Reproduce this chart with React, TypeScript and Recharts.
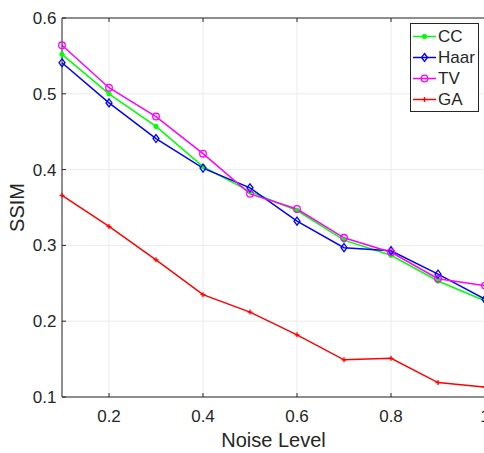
import React from 'react';
import { LineChart, Line, XAxis, YAxis, CartesianGrid, Legend, Label } from 'recharts';

const noiseLevels = [0.1, 0.2, 0.3, 0.4, 0.5, 0.6, 0.7, 0.8, 0.9, 1.0];
const ccSsim = [0.552, 0.5, 0.457, 0.404, 0.371, 0.346, 0.307, 0.287, 0.253, 0.227];
const haarSsim = [0.541, 0.488, 0.441, 0.402, 0.376, 0.332, 0.297, 0.293, 0.262, 0.229];
const tvSsim = [0.564, 0.508, 0.47, 0.421, 0.368, 0.348, 0.31, 0.291, 0.256, 0.247];
const gaSsim = [0.366, 0.325, 0.281, 0.235, 0.212, 0.182, 0.149, 0.151, 0.119, 0.113];
const xTicks = [0.2, 0.4, 0.6, 0.8, 1.0];
const yTicks = [0.1, 0.2, 0.3, 0.4, 0.5, 0.6];

const data = noiseLevels.map((n, i) => ({
  noise: n,
  cc: ccSsim[i],
  haar: haarSsim[i],
  tv: tvSsim[i],
  ga: gaSsim[i]
}));

const FONT = '"Liberation Sans", Arial, Helvetica, sans-serif';
const AXIS = '#262626';

const marker = (kind: string, color: string, cx: number, cy: number, key?: any) => {
  switch (kind) {
    case 'dot':
      return <circle key={key} cx={cx} cy={cy} r={2.2} fill={color} stroke={color} />;
    case 'diamond':
      return <polygon key={key} points={`${cx},${cy - 4} ${cx + 3},${cy} ${cx},${cy + 4} ${cx - 3},${cy}`} fill="none" stroke={color} strokeWidth={1.3} />;
    case 'circle':
      return <circle key={key} cx={cx} cy={cy} r={3.3} fill="none" stroke={color} strokeWidth={1.3} />;
    default:
      return (
        <g key={key} stroke={color} strokeWidth={1.3}>
          <line x1={cx - 2.5} y1={cy} x2={cx + 2.5} y2={cy} />
          <line x1={cx} y1={cy - 2.5} x2={cx} y2={cy + 2.5} />
        </g>
      );
  }
};

const series = [
  { key: 'cc', name: 'CC', color: '#00ff00', kind: 'dot' },
  { key: 'haar', name: 'Haar', color: '#0000ff', kind: 'diamond' },
  { key: 'tv', name: 'TV', color: '#ff00ff', kind: 'circle' },
  { key: 'ga', name: 'GA', color: '#ff0000', kind: 'plus' }
];

const renderLegend = () => (
  <div style={{ border: `1px solid ${AXIS}`, background: '#fff', paddingTop: 1.5, paddingBottom: 1.5, fontFamily: FONT, fontSize: 17, color: AXIS }}>
    {series.map(s => (
      <div key={s.key} style={{ display: 'flex', alignItems: 'center', height: 21 }}>
        <svg width={26} height={21} style={{ display: 'block' }}>
          <line x1={2} y1={10.5} x2={25} y2={10.5} stroke={s.color} strokeWidth={1.5} />
          {marker(s.kind, s.color, 13.5, 10.5)}
        </svg>
        <span style={{ marginLeft: 1, lineHeight: '21px' }}>{s.name}</span>
      </div>
    ))}
  </div>
);

const renderSsim = (props: any) => {
  const vb = props.viewBox || { y: 18, height: 379 };
  const cy = vb.y + vb.height / 2;
  return (
    <text transform={`translate(23.5, ${cy}) rotate(-90)`} textAnchor="middle" fontSize={20} fontFamily={FONT} fill={AXIS}>
      SSIM
    </text>
  );
};

export default function App() {
  return (
    <div style={{ position: 'absolute', left: 0, top: 0, width: 484, height: 453, overflow: 'hidden', background: '#fff' }}>
      <LineChart width={490} height={453} data={data} margin={{ top: 0, right: 0, left: 0, bottom: 0 }}>
        <CartesianGrid stroke="#ebebeb" strokeWidth={1} />
        <XAxis
          dataKey="noise"
          type="number"
          domain={[0.1, 1]}
          ticks={xTicks}
          height={56}
          tickSize={-4}
          tickMargin={16.5}
          tickFormatter={(v: number) => String(Number(v.toFixed(1)))}
          tick={{ fontSize: 17, fontFamily: FONT, fill: AXIS }}
          stroke={AXIS}
          label={{ value: 'Noise Level', position: 'insideBottom', offset: 6, fontSize: 20, fontFamily: FONT, fill: AXIS }}
        />
        <XAxis
          xAxisId="top"
          orientation="top"
          dataKey="noise"
          type="number"
          domain={[0.1, 1]}
          ticks={xTicks}
          height={18}
          tickSize={-4}
          tickFormatter={() => ''}
          stroke={AXIS}
        />
        <YAxis
          type="number"
          domain={[0.1, 0.6]}
          ticks={yTicks}
          width={62}
          tickSize={-4}
          tickMargin={9.5}
          tickFormatter={(v: number) => v.toFixed(1)}
          tick={{ fontSize: 17, fontFamily: FONT, fill: AXIS }}
          stroke={AXIS}
        >
          <Label content={renderSsim} />
        </YAxis>
        <YAxis
          yAxisId="right"
          orientation="right"
          type="number"
          domain={[0.1, 0.6]}
          ticks={yTicks}
          width={5}
          tickSize={-4}
          tickFormatter={() => ''}
          stroke={AXIS}
        />
        <Legend
          layout="horizontal"
          align="center"
          verticalAlign="middle"
          content={renderLegend}
          wrapperStyle={{ position: 'absolute', left: 410, top: 23, width: 69 }}
        />
        {series.map(s => (
          <Line
            key={s.key}
            dataKey={s.key}
            name={s.name}
            stroke={s.color}
            strokeWidth={1.5}
            isAnimationActive={false}
            dot={(p: any) => marker(s.kind, s.color, p.cx, p.cy, p.index)}
            activeDot={false}
          />
        ))}
      </LineChart>
    </div>
  );
}
